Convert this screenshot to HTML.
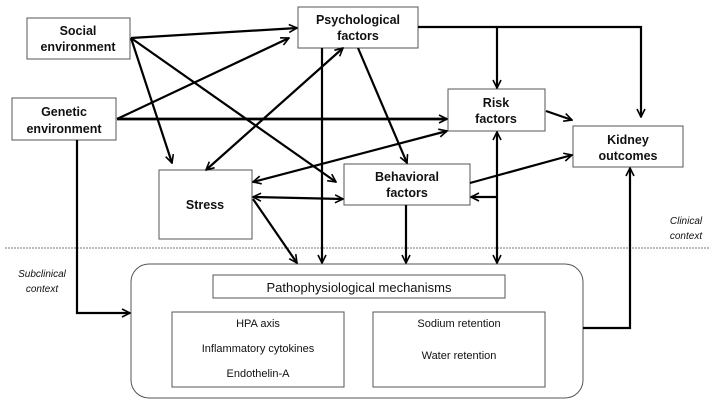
<!DOCTYPE html>
<html><head><style>
body{margin:0;background:#fff;}
svg{display:block;font-family:"Liberation Sans",sans-serif;}
.b{font-weight:bold;font-size:12.5px;}
.n{font-size:11px;}
</style></head><body>
<svg width="714" height="405" viewBox="0 0 714 405" xmlns="http://www.w3.org/2000/svg">
<defs>
<marker id="a" viewBox="0 0 10 10" refX="9" refY="5" markerWidth="10" markerHeight="10" orient="auto-start-reverse" markerUnits="userSpaceOnUse">
<path d="M1,1 L9,5 L1,9" fill="none" stroke="#000" stroke-width="1.6"/>
</marker>
</defs>
<g fill="#fff" stroke="#555" stroke-width="1">
<rect x="27" y="18" width="103" height="41"/>
<rect x="12" y="98" width="104" height="42"/>
<rect x="298" y="7" width="120" height="41"/>
<rect x="448" y="89" width="97" height="42"/>
<rect x="573" y="126" width="110" height="41"/>
<rect x="159" y="170" width="93" height="69"/>
<rect x="344" y="164" width="126" height="41"/>
<rect x="131" y="264" width="452" height="134" rx="18"/>
<rect x="213" y="275" width="292" height="23"/>
<rect x="172" y="312" width="172" height="75"/>
<rect x="373" y="312" width="172" height="75"/>
</g>
<line x1="5" y1="248" x2="710" y2="248" stroke="#777" stroke-dasharray="2,1" stroke-width="1"/>
<g stroke="#000" stroke-width="2.2" fill="none" marker-end="url(#a)">
<line x1="131" y1="38" x2="297" y2="28"/>
<line x1="131" y1="38" x2="172" y2="163"/>
<line x1="131" y1="38" x2="336" y2="182"/>
<line x1="117" y1="119" x2="289" y2="38"/>
<line x1="117" y1="119" x2="447" y2="119" stroke-width="2.8"/>
<polyline points="77,140 77,313 130,313"/>
<line x1="206" y1="170" x2="343" y2="48" marker-start="url(#a)"/>
<line x1="253" y1="182" x2="447" y2="131" marker-start="url(#a)"/>
<line x1="253" y1="197" x2="343" y2="199" marker-start="url(#a)"/>
<line x1="253" y1="199" x2="297" y2="263"/>
<line x1="322" y1="48" x2="322" y2="263"/>
<line x1="358" y1="48" x2="407" y2="163"/>
<polyline points="418,27 641,27 641,117"/>
<line x1="497" y1="27" x2="497" y2="88"/>
<line x1="546" y1="111" x2="572" y2="120"/>
<line x1="470" y1="183" x2="572" y2="155"/>
<line x1="497" y1="132" x2="497" y2="263" marker-start="url(#a)"/>
<line x1="497" y1="197" x2="471" y2="197"/>
<line x1="406" y1="205" x2="406" y2="263"/>
<polyline points="583,328 630,328 630,168"/>
</g>
<g class="b" text-anchor="middle" fill="#111">
<text x="78" y="35">Social</text><text x="78" y="51">environment</text>
<text x="64" y="116">Genetic</text><text x="64" y="133">environment</text>
<text x="358" y="24">Psychological</text><text x="358" y="40">factors</text>
<text x="496" y="107">Risk</text><text x="496" y="123">factors</text>
<text x="628" y="144">Kidney</text><text x="628" y="160">outcomes</text>
<text x="205" y="209">Stress</text>
<text x="407" y="181">Behavioral</text><text x="407" y="197">factors</text>
</g>
<g text-anchor="middle" fill="#111">
<text x="359" y="292" font-size="13">Pathophysiological mechanisms</text>
<text x="258" y="327" class="n">HPA axis</text>
<text x="258" y="352" class="n">Inflammatory cytokines</text>
<text x="258" y="377" class="n">Endothelin-A</text>
<text x="459" y="327" class="n">Sodium retention</text>
<text x="459" y="359" class="n">Water retention</text>
<g font-style="italic" font-size="10">
<text x="686" y="224">Clinical</text><text x="686" y="239">context</text>
<text x="42" y="277">Subclinical</text><text x="42" y="292">context</text>
</g>
</g>
</svg>
</body></html>
